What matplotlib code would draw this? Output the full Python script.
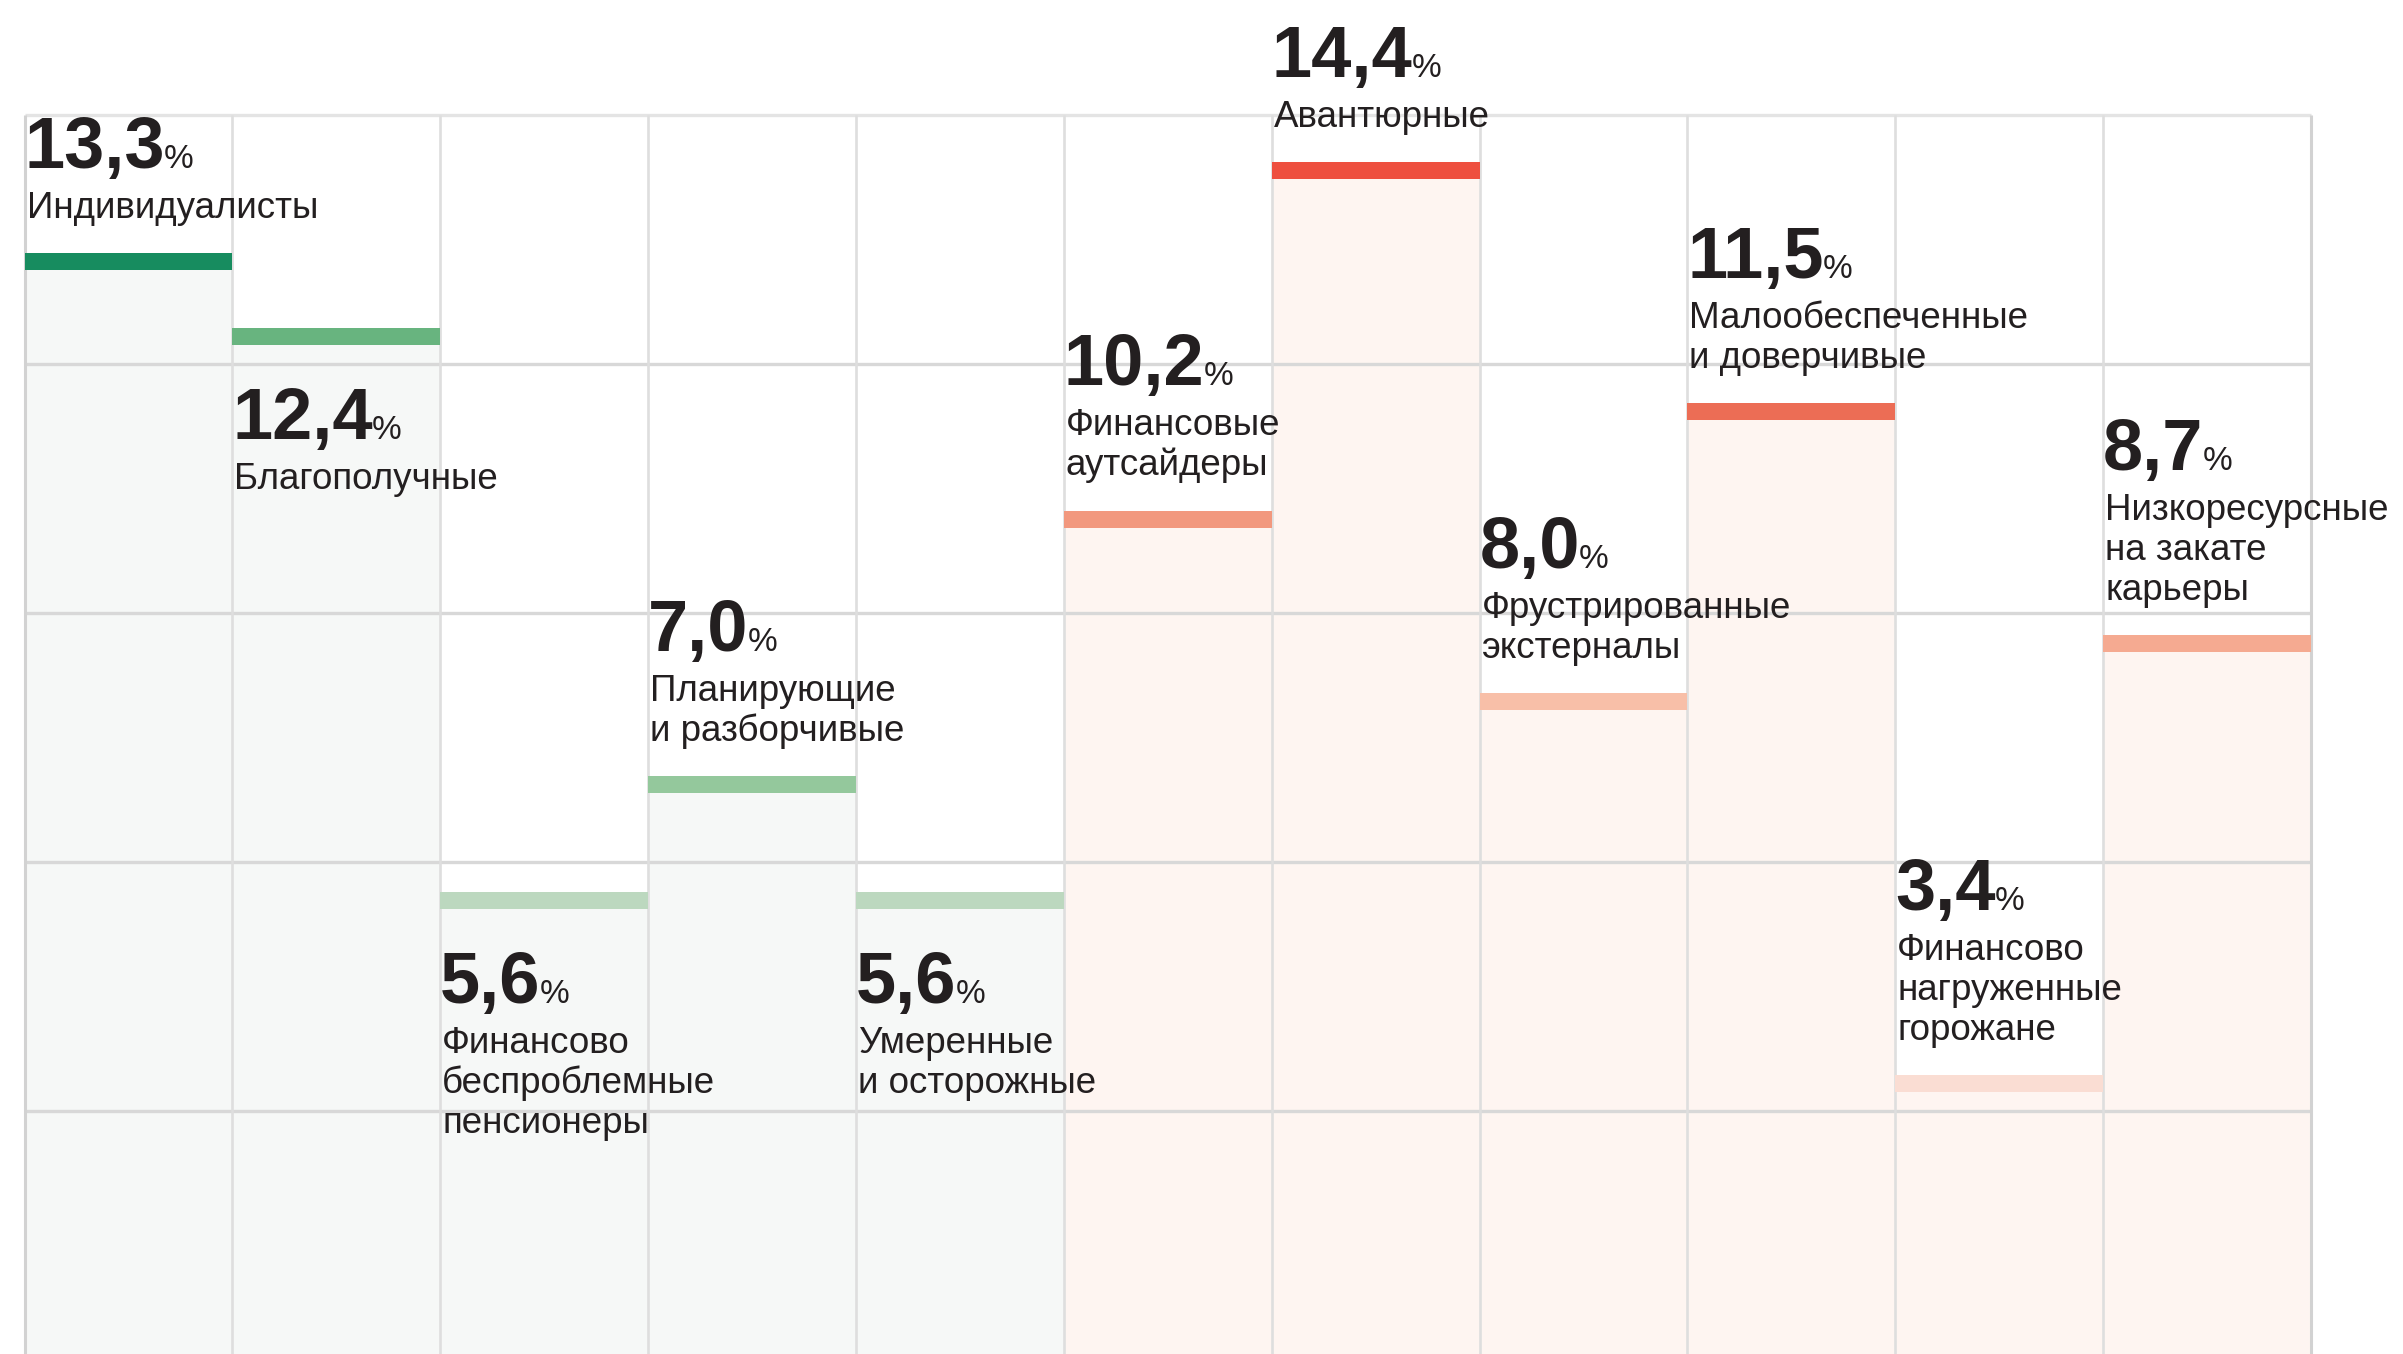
import matplotlib
matplotlib.use("Agg")
import matplotlib.pyplot as plt
from matplotlib.patches import Rectangle
from matplotlib import font_manager

# ---- data ----
categories = [
    "Индивидуалисты",
    "Благополучные",
    "Финансово\nбеспроблемные\nпенсионеры",
    "Планирующие\nи разборчивые",
    "Умеренные\nи осторожные",
    "Финансовые\nаутсайдеры",
    "Авантюрные",
    "Фрустрированные\nэкстерналы",
    "Малообеспеченные\nи доверчивые",
    "Финансово\nнагруженные\nгорожане",
    "Низкоресурсные\nна закате\nкарьеры",
]
values = [13.3, 12.4, 5.6, 7.0, 5.6, 10.2, 14.4, 8.0, 11.5, 3.4, 8.7]
label_pos = ["above", "below", "below", "above", "below",
             "above", "above", "above", "above", "above", "above"]
bar_colors = ["#178C5F", "#68B47F", "#BCD8BF", "#94C89C", "#BCD8BF",
              "#F2987E", "#EE4F3F", "#F8BFA8", "#EC6D55", "#FADDD3", "#F5AA91"]
fill_colors = ["#F6F8F7"] * 5 + ["#FEF5F1"] * 6
grid_values = [3, 6, 9, 12, 15]

# ---- figure ----
W, H, DPI = 2403, 1354, 100
fig = plt.figure(figsize=(W / DPI, H / DPI), dpi=DPI)
ax = fig.add_axes([0, 0, 1, 1])
ax.set_xlim(-0.118, 11.443)
ax.set_ylim(0.072, 16.386)
ax.axis("off")

avail = {f.name for f in font_manager.fontManager.ttflist}
font = "Liberation Sans" if "Liberation Sans" in avail else "DejaVu Sans"
if "Liberation Sans Narrow" in avail:
    lab_font, lab_size = "Liberation Sans Narrow", 32
    pct_font, pct_size, pct_w = "Liberation Sans Narrow", 30, "normal"
else:
    lab_font, lab_size = font, 26.5
    pct_font, pct_size, pct_w = font, 24, "normal"
txt_color = "#231F20"

n = len(values)
bar_lo, bar_hi = 0.17, 0.035
ymin = ax.get_ylim()[0]

# fills below bars
for i, v in enumerate(values):
    ax.add_patch(Rectangle((i, ymin), 1, v - ymin, facecolor=fill_colors[i],
                           edgecolor="none", zorder=1))

# grid
for g in grid_values:
    col = "#E4E4E4" if g == 15 else "#D8D8D8"
    ax.plot([0, n], [g, g], color=col, lw=2.4, zorder=2, solid_capstyle="butt")
for i in range(n + 1):
    col = "#D2D2D2" if i in (0, n) else "#DEDEDE"
    ax.plot([i, i], [ymin, 15], color=col, lw=2.2 if i in (0, n) else 1.9,
            zorder=2, solid_capstyle="butt")

# bars
for i, v in enumerate(values):
    ax.add_patch(Rectangle((i, v - bar_lo), 1, bar_lo + bar_hi,
                           facecolor=bar_colors[i], edgecolor="none", zorder=3))

# texts
num_texts = []
for i, (v, cat, pos) in enumerate(zip(values, categories, label_pos)):
    lines = cat.split("\n")
    nl = len(lines)
    x_off = 2
    if pos == "above":
        label_base = [38 + 40 * (nl - 1 - k) for k in range(nl)]
        num_base = label_base[0] + 50
    else:
        num_base = -108
        label_base = [num_base - 50 - 40 * k for k in range(nl)]
    for k, ln in enumerate(lines):
        ax.annotate(ln, xy=(i, v), xytext=(x_off, label_base[k]),
                    textcoords="offset pixels", ha="left", va="baseline",
                    fontsize=lab_size, family=lab_font, color=txt_color,
                    zorder=5)
    s = f"{v:.1f}".replace(".", ",")
    t = ax.annotate(s, xy=(i, v), xytext=(x_off - 2, num_base),
                    textcoords="offset pixels", ha="left", va="baseline",
                    fontsize=52, fontweight="bold", family=font,
                    color=txt_color, zorder=5)
    num_texts.append((t, i, v, num_base, x_off - 2))

fig.canvas.draw()
renderer = fig.canvas.get_renderer()
for t, i, v, nb, xo in num_texts:
    bb = t.get_window_extent(renderer)
    ax.annotate("%", xy=(i, v), xytext=(xo + bb.width - 1, nb),
                textcoords="offset pixels", ha="left", va="baseline",
                fontsize=pct_size, fontweight=pct_w, family=pct_font,
                color=txt_color, zorder=5)

fig.savefig("out.png", dpi=DPI)
